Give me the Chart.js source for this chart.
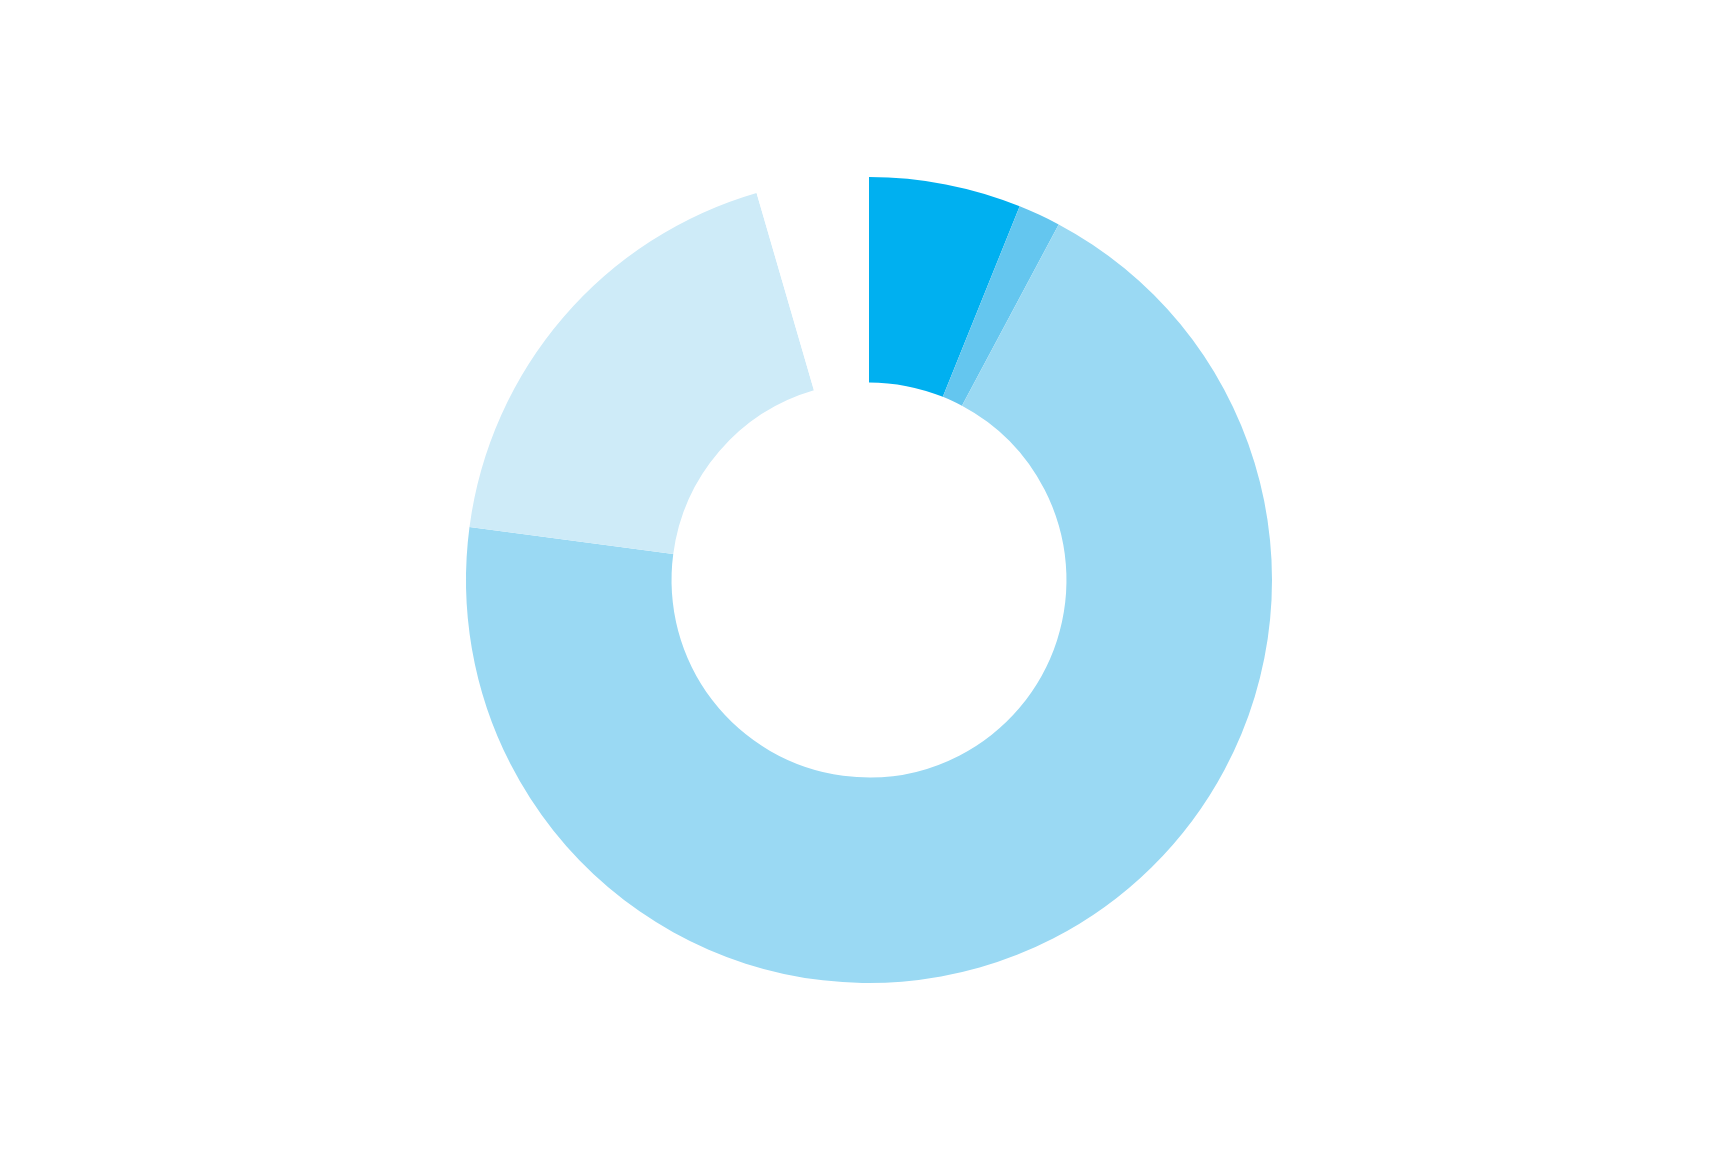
<!DOCTYPE html>
<html>
<head>
<meta charset="utf-8">
<script src="https://cdn.jsdelivr.net/npm/chart.js@4"></script>
<style>
html,body{margin:0;padding:0;background:#fff;}
#wrap{width:1713px;height:1151px;position:relative;}
</style>
</head>
<body>
<div id="wrap"><canvas id="c" width="1713" height="1151"></canvas></div>
<script>
const categories = ["A", "B", "C", "D", "E"];
const values = [6.1, 1.7, 69.3, 18.4, 4.5];
const colors = ["#00B0F0", "#64C6EF", "#9AD9F3", "#CEEBF8", "#FFFFFF"];

new Chart(document.getElementById('c'), {
  type: 'doughnut',
  data: {
    labels: categories,
    datasets: [{
      data: values,
      backgroundColor: colors,
      borderWidth: 0,
      hoverOffset: 0
    }]
  },
  options: {
    responsive: false,
    animation: false,
    cutout: '49%',
    layout: { padding: { left: 190, right: 165, top: 177, bottom: 168 } },
    plugins: { legend: { display: false }, tooltip: { enabled: false } }
  }
});
</script>
</body>
</html>
